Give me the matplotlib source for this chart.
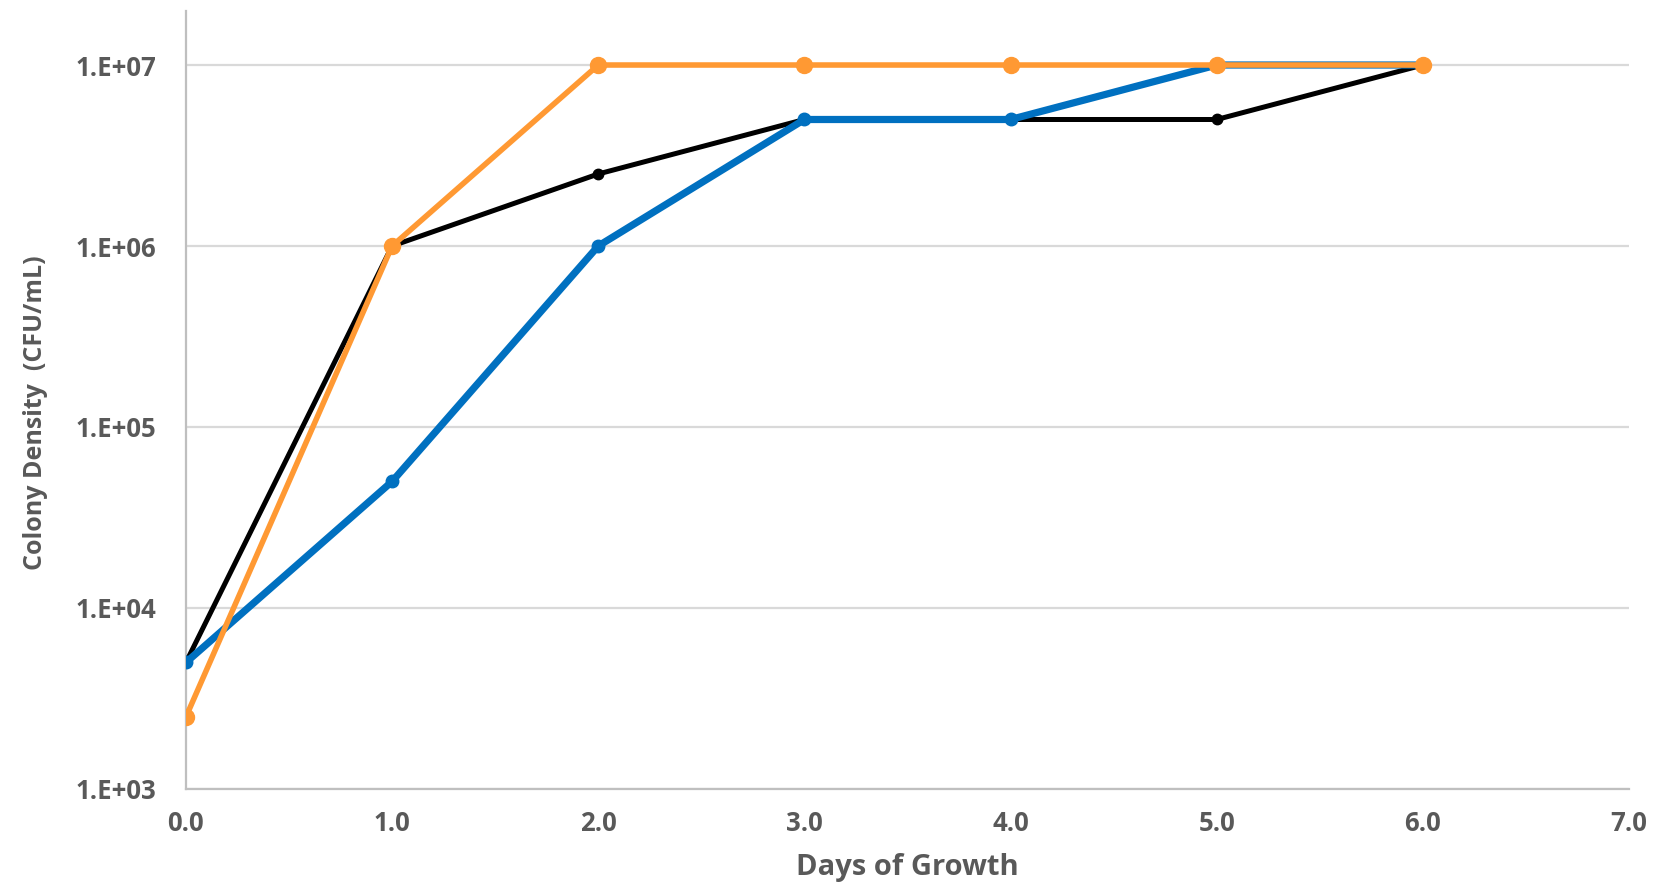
import math
import matplotlib
matplotlib.use("Agg")
import matplotlib.pyplot as plt
from matplotlib.ticker import FixedLocator, FuncFormatter

plt.rcParams['font.family'] = ['Open Sans', 'DejaVu Sans']

# Days of growth and colony densities (CFU/mL) for each culture
days = [0, 1, 2, 3, 4, 5, 6]
black_series = [5e3, 1e6, 2.5e6, 5e6, 5e6, 5e6, 1e7]
blue_series = [5e3, 5e4, 1e6, 5e6, 5e6, 1e7, 1e7]
orange_series = [2.5e3, 1e6, 1e7, 1e7, 1e7, 1e7, 1e7]

y_ticks = [1e3, 1e4, 1e5, 1e6, 1e7]
x_ticks = [0, 1, 2, 3, 4, 5, 6, 7]

text_color = '#595959'
grid_color = '#D9D9D9'

fig = plt.figure(figsize=(16.63, 8.86), dpi=100)
ax = fig.add_axes([0.1118, 0.1095, 0.8678, 0.878])

ax.plot(days, black_series, color='#000000', lw=3.6, marker='o', ms=7.5, zorder=3)
ax.plot(days, blue_series, color='#0070C0', lw=5.2, marker='o', ms=9, zorder=4)
ax.plot(days, orange_series, color='#FF9933', lw=4.0, marker='o', ms=11.5, zorder=5)

ax.set_yscale('log')
ax.set_ylim(1e3, 10 ** 7.298)
ax.set_xlim(0, 7)

ax.yaxis.set_major_locator(FixedLocator(y_ticks))
ax.yaxis.set_minor_locator(FixedLocator([]))
ax.yaxis.set_major_formatter(FuncFormatter(lambda v, p: "1.E+%02d" % round(math.log10(v))))
ax.xaxis.set_major_locator(FixedLocator(x_ticks))
ax.xaxis.set_major_formatter(FuncFormatter(lambda v, p: "%.1f" % v))

ax.grid(axis='y', color=grid_color, lw=1.6, zorder=0)
ax.set_axisbelow(True)

for side in ('top', 'right'):
    ax.spines[side].set_visible(False)
for side in ('left', 'bottom'):
    ax.spines[side].set_color('#BFBFBF')
    ax.spines[side].set_linewidth(1.6)

ax.tick_params(axis='both', length=0, labelcolor=text_color, labelsize=18.5)
ax.tick_params(axis='y', pad=21)
ax.tick_params(axis='x', pad=15)
for lbl in ax.get_xticklabels() + ax.get_yticklabels():
    lbl.set_fontweight('bold')

ax.set_xlabel('Days of Growth', fontsize=21, fontweight='bold', color=text_color, labelpad=12)
ax.set_ylabel('Colony Density  (CFU/mL)', fontsize=18, fontweight='bold', color=text_color, labelpad=24)
ax.yaxis.set_label_coords(-0.0955, 0.484)

fig.savefig('out.png', dpi=100, facecolor='white')
